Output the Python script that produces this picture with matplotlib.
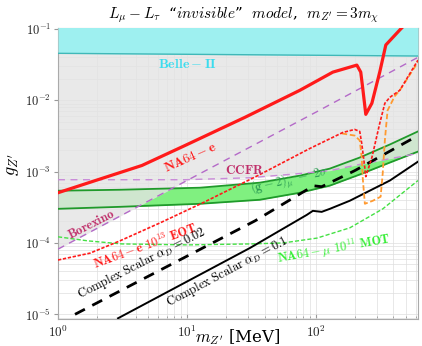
import matplotlib
matplotlib.use('Agg')
import matplotlib.pyplot as plt
import numpy as np

plt.rcParams['mathtext.fontset'] = 'cm'
plt.rcParams['font.family'] = 'serif'
plt.rcParams['font.serif'] = ['DejaVu Serif']

# values (m_Z' in MeV)
belle_m = [1, 620]
belle_g = [0.0455, 0.0417]

borex_m = [1, 10, 100, 620]
borex_g = [8.2e-5, 7.5e-4, 6.8e-3, 0.040]

ccfr_m = [1, 9.65, 30.7, 75.2, 128, 218, 620]
ccfr_g = [7.7e-4, 7.7e-4, 8.2e-4, 9.4e-4, 1.03e-3, 1.26e-3, 1.8e-3]

gm2_m = [1, 3.02, 12.6, 36.7, 75.2, 128, 218, 375, 620]
gm2_hi = [5.4e-4, 5.57e-4, 5.95e-4, 7.0e-4, 8.79e-4, 1.10e-3, 1.57e-3, 2.40e-3, 3.66e-3]
gm2_lo = [3.01e-4, 3.21e-4, 3.54e-4, 4.03e-4, 5.06e-4, 6.35e-4, 9.08e-4, 1.34e-3, 1.91e-3]

na64e_m = [1, 2.04, 4.48, 9.65, 28.2, 75.2, 135.5, 208, 223, 231, 244, 272, 313, 349, 448, 480]
na64e_g = [5.06e-4, 7.7e-4, 1.22e-3, 2.32e-3, 5.77e-3, 0.0138, 0.0248, 0.0311, 0.0248,
           0.0148, 6.35e-3, 9.08e-3, 0.0248, 0.0596, 0.0968, 0.11]

eot_m = [1, 1.77, 3.02, 6.18, 13.3, 35.5, 89.8, 162, 200, 219, 227, 236, 244, 272, 313,
         343, 375, 448, 620]
eot_g = [5.77e-5, 7.2e-5, 1.07e-4, 1.91e-4, 3.66e-4, 8.8e-4, 2.11e-3, 3.54e-3, 3.9e-3,
         3.66e-3, 2.48e-3, 1.43e-3, 8.5e-4, 1.57e-3, 4.74e-3, 9.08e-3, 0.011, 0.0138, 0.0366]

orange_m = [159, 200, 219, 227, 231, 240, 277, 318, 330, 343, 360, 409, 448, 620]
orange_g = [3.43e-3, 3.2e-3, 2.74e-3, 1.57e-3, 8.2e-4, 3.54e-4, 3.91e-4, 4.45e-4, 9.4e-4,
            2.74e-3, 7.2e-3, 0.0114, 0.0138, 0.0343]

mu_m = [1, 1.71, 3.13, 10.2, 30.8, 55.5, 101.9, 183.5, 330, 620]
mu_g = [1.22e-4, 1.07e-4, 9.7e-5, 9.4e-5, 9.7e-5, 1.0e-4, 1.17e-4, 1.63e-4, 3.0e-4, 7.5e-4]

cs02_m = [1.355, 33.7, 85.2, 94.8, 111, 200, 620]
cs02_g = [1.0e-5, 2.04e-4, 5.57e-4, 6.35e-4, 6.15e-4, 1.03e-3, 3.2e-3]

cs1_m = [2.92, 30.8, 85.2, 94.8, 111, 128.5, 183.5, 375, 620]
cs1_g = [8.8e-6, 8.5e-5, 2.48e-4, 2.82e-4, 2.73e-4, 3.01e-4, 3.91e-4, 7.5e-4, 1.38e-3]

xticks = [1, 10, 100]
xticklabels = [r'$10^0$', r'$10^1$', r'$10^2$']
yticks = [1e-5, 1e-4, 1e-3, 1e-2, 1e-1]
yticklabels = [r'$10^{-5}$', r'$10^{-4}$', r'$10^{-3}$', r'$10^{-2}$', r'$10^{-1}$']


def logi(m, xs, ys):
    return 10 ** np.interp(np.log10(m), np.log10(xs), np.log10(ys))


fig = plt.figure(figsize=(4.22, 3.46), dpi=100)
ax = fig.add_axes([58 / 422, 27 / 346, 360 / 422, 291 / 346])
ax.set_xscale('log')
ax.set_yscale('log')
ax.set_xlim(1, 620)
ax.set_ylim(8.6e-6, 0.103)

ax.set_axisbelow(True)
ax.grid(which='both', color='#dedede', lw=0.5)

mm = np.logspace(0, np.log10(620), 500)

# (g-2) band below the grey overlay
ax.fill_between(gm2_m, gm2_lo, gm2_hi, color='#80f080', lw=0, zorder=1)

# excluded region (Borexino + CCFR)
grey_lo = np.minimum(logi(mm, borex_m, borex_g), logi(mm, ccfr_m, ccfr_g))
ax.fill_between(mm, grey_lo, 0.3, color='#e4e4e4', alpha=0.8, lw=0, zorder=2)

# Belle-II
ax.fill_between(belle_m, belle_g, 0.3, color='#9ef0f0', lw=0, zorder=3)
ax.plot(belle_m, belle_g, color='#40b8b8', lw=1.0, zorder=3)

ax.plot(gm2_m, gm2_hi, color='#1f9a2a', lw=1.3, zorder=4)
ax.plot(gm2_m, gm2_lo, color='#1f9a2a', lw=1.3, zorder=4)

ax.plot(borex_m, borex_g, color='#b46ac8', lw=1.0, ls=(0, (5, 4)), zorder=5)
ax.plot(ccfr_m, ccfr_g, color='#c98ad8', lw=1.0, ls=(0, (5, 4)), zorder=5)

ax.plot(mu_m, mu_g, color='#44e044', lw=1.0, ls=(0, (3, 1.5)), zorder=5)
ax.plot(cs1_m, cs1_g, color='black', lw=1.4, zorder=5)
ax.plot(cs02_m, cs02_g, color='black', lw=2.0, ls=(0, (4, 3)), zorder=5)
ax.plot(orange_m, orange_g, color='#ff9a30', lw=1.3, ls=(0, (3, 1.5)), zorder=6)
ax.plot(eot_m, eot_g, color='#ff1a1a', lw=1.2, ls=(0, (2, 1)), zorder=6)
ax.plot(na64e_m, na64e_g, color='#ff1a1a', lw=2.3, zorder=7)

ax.set_xticks(xticks)
ax.set_xticklabels(xticklabels)
ax.set_yticks(yticks)
ax.set_yticklabels(yticklabels)
ax.tick_params(axis='x', which='both', direction='in', colors='#999999', labelcolor='#222222',
               labelsize=9.5, pad=4)
ax.tick_params(axis='x', which='minor', length=2.5)
ax.tick_params(axis='y', which='major', direction='out', length=3, colors='#999999',
               labelcolor='#222222', labelsize=9, pad=2)
ax.tick_params(axis='y', which='minor', length=0)
for s in ax.spines.values():
    s.set_color('#aaaaaa')
    s.set_linewidth(0.8)


# labels on the curves (pixel positions turned into figure fractions)
def lab(x, y, s, color, rot=0, size=9):
    fig.text(x / 422, 1 - y / 346, s, color=color, rotation=rot, ha='center', va='center',
             rotation_mode='anchor', fontsize=size, zorder=10)


lab(187, 64, r'$\mathbf{Belle-II}$', '#3cdcee', size=10)
lab(190, 158, r'$\mathbf{NA64-e}$', '#ff1a1a', rot=24, size=9.5)
lab(245, 171, r'$\mathbf{CCFR}$', '#c0306b', size=9.5)
lab(91, 224, r'$\mathbf{Borexino}$', '#c0306b', rot=27)
lab(290, 181, r'$(\mathbf{g}-\mathbf{2})_\mu\ -\ 2\sigma$', '#2f9f55', rot=13)
lab(145, 246, r'$\mathbf{NA64-e\ 10^{13}\ EOT}$', '#ff1a1a', rot=20)
lab(142, 263, r'$\mathrm{Complex\ Scalar}\ \alpha_D = 0.02$', 'black', rot=27)
lab(227, 272, r'$\mathrm{Complex\ Scalar}\ \alpha_D = 0.1$', 'black', rot=28)
lab(334, 249, r'$\mathbf{NA64}-\mu\ \mathbf{10^{11}\ MOT}$', '#33ee33', rot=10)

fig.text(244 / 422, 1 - 15 / 346,
         r'$L_\mu - L_\tau$  “$invisible$”  $model$,  $m_{Z^\prime} = 3m_\chi$',
         ha='center', va='center', fontsize=11)
fig.text(12 / 422, 1 - 165 / 346, r'$g_{Z^\prime}$', rotation=90, ha='center', va='center',
         fontsize=13)
fig.text(238 / 422, 1 - 337 / 346, r'$m_{Z^\prime}$ [MeV]', ha='center', va='center',
         fontsize=12)

fig.savefig('out.png', dpi=100)
